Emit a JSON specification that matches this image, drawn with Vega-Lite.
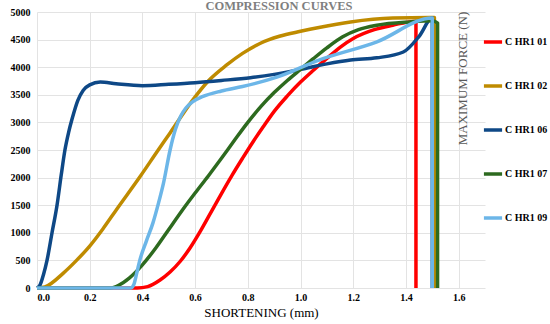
{
  "$schema": "https://vega.github.io/schema/vega-lite/v6.json",
  "width": 448,
  "height": 276,
  "autosize": {"type": "none"},
  "padding": {"left": 37, "top": 12, "right": 65, "bottom": 36},
  "background": "white",
  "title": {
    "text": "COMPRESSION CURVES",
    "font": "Liberation Serif",
    "fontSize": 12.5,
    "fontWeight": "bold",
    "color": "#7f7f7f",
    "anchor": "middle",
    "dx": 18,
    "offset": 2,
    "dy": 7
  },
  "data": {
    "values": [
      {"s": "C HR1 01", "i": 1, "x": 0, "y": 0},
      {"s": "C HR1 01", "i": 2, "x": 0.38, "y": 0},
      {"s": "C HR1 01", "i": 3, "x": 0.42, "y": 25},
      {"s": "C HR1 01", "i": 4, "x": 0.467, "y": 145},
      {"s": "C HR1 01", "i": 5, "x": 0.505, "y": 290},
      {"s": "C HR1 01", "i": 6, "x": 0.543, "y": 480},
      {"s": "C HR1 01", "i": 7, "x": 0.58, "y": 720},
      {"s": "C HR1 01", "i": 8, "x": 0.62, "y": 1030},
      {"s": "C HR1 01", "i": 9, "x": 0.66, "y": 1370},
      {"s": "C HR1 01", "i": 10, "x": 0.70, "y": 1710},
      {"s": "C HR1 01", "i": 11, "x": 0.74, "y": 2040},
      {"s": "C HR1 01", "i": 12, "x": 0.78, "y": 2350},
      {"s": "C HR1 01", "i": 13, "x": 0.82, "y": 2650},
      {"s": "C HR1 01", "i": 14, "x": 0.86, "y": 2930},
      {"s": "C HR1 01", "i": 15, "x": 0.90, "y": 3200},
      {"s": "C HR1 01", "i": 16, "x": 0.95, "y": 3480},
      {"s": "C HR1 01", "i": 17, "x": 1.0, "y": 3730},
      {"s": "C HR1 01", "i": 18, "x": 1.05, "y": 3950},
      {"s": "C HR1 01", "i": 19, "x": 1.1, "y": 4160},
      {"s": "C HR1 01", "i": 20, "x": 1.15, "y": 4360},
      {"s": "C HR1 01", "i": 21, "x": 1.2, "y": 4520},
      {"s": "C HR1 01", "i": 22, "x": 1.28, "y": 4680},
      {"s": "C HR1 01", "i": 23, "x": 1.35, "y": 4760},
      {"s": "C HR1 01", "i": 24, "x": 1.43, "y": 4830},
      {"s": "C HR1 01", "i": 25, "x": 1.438, "y": 4830},
      {"s": "C HR1 01", "i": 26, "x": 1.438, "y": 0},

      {"s": "C HR1 02", "i": 1, "x": 0, "y": 0},
      {"s": "C HR1 02", "i": 2, "x": 0.03, "y": 20},
      {"s": "C HR1 02", "i": 3, "x": 0.1, "y": 270},
      {"s": "C HR1 02", "i": 4, "x": 0.15, "y": 500},
      {"s": "C HR1 02", "i": 5, "x": 0.2, "y": 760},
      {"s": "C HR1 02", "i": 6, "x": 0.25, "y": 1070},
      {"s": "C HR1 02", "i": 7, "x": 0.3, "y": 1410},
      {"s": "C HR1 02", "i": 8, "x": 0.39, "y": 2010},
      {"s": "C HR1 02", "i": 9, "x": 0.46, "y": 2500},
      {"s": "C HR1 02", "i": 10, "x": 0.505, "y": 2810},
      {"s": "C HR1 02", "i": 11, "x": 0.59, "y": 3400},
      {"s": "C HR1 02", "i": 12, "x": 0.65, "y": 3750},
      {"s": "C HR1 02", "i": 13, "x": 0.72, "y": 4040},
      {"s": "C HR1 02", "i": 14, "x": 0.78, "y": 4250},
      {"s": "C HR1 02", "i": 15, "x": 0.846, "y": 4430},
      {"s": "C HR1 02", "i": 16, "x": 0.92, "y": 4560},
      {"s": "C HR1 02", "i": 17, "x": 1.0, "y": 4650},
      {"s": "C HR1 02", "i": 18, "x": 1.07, "y": 4720},
      {"s": "C HR1 02", "i": 19, "x": 1.19, "y": 4820},
      {"s": "C HR1 02", "i": 20, "x": 1.35, "y": 4890},
      {"s": "C HR1 02", "i": 21, "x": 1.49, "y": 4900},
      {"s": "C HR1 02", "i": 22, "x": 1.508, "y": 4900},
      {"s": "C HR1 02", "i": 23, "x": 1.508, "y": 0},

      {"s": "C HR1 06", "i": 1, "x": 0, "y": 0},
      {"s": "C HR1 06", "i": 2, "x": 0.012, "y": 60},
      {"s": "C HR1 06", "i": 3, "x": 0.025, "y": 250},
      {"s": "C HR1 06", "i": 4, "x": 0.038, "y": 500},
      {"s": "C HR1 06", "i": 5, "x": 0.057, "y": 1000},
      {"s": "C HR1 06", "i": 6, "x": 0.076, "y": 1500},
      {"s": "C HR1 06", "i": 7, "x": 0.092, "y": 2050},
      {"s": "C HR1 06", "i": 8, "x": 0.106, "y": 2500},
      {"s": "C HR1 06", "i": 9, "x": 0.12, "y": 2820},
      {"s": "C HR1 06", "i": 10, "x": 0.133, "y": 3060},
      {"s": "C HR1 06", "i": 11, "x": 0.155, "y": 3400},
      {"s": "C HR1 06", "i": 12, "x": 0.175, "y": 3580},
      {"s": "C HR1 06", "i": 13, "x": 0.2, "y": 3680},
      {"s": "C HR1 06", "i": 14, "x": 0.24, "y": 3730},
      {"s": "C HR1 06", "i": 15, "x": 0.3, "y": 3700},
      {"s": "C HR1 06", "i": 16, "x": 0.4, "y": 3665},
      {"s": "C HR1 06", "i": 17, "x": 0.5, "y": 3690},
      {"s": "C HR1 06", "i": 18, "x": 0.6, "y": 3720},
      {"s": "C HR1 06", "i": 19, "x": 0.7, "y": 3760},
      {"s": "C HR1 06", "i": 20, "x": 0.81, "y": 3810},
      {"s": "C HR1 06", "i": 21, "x": 0.9, "y": 3870},
      {"s": "C HR1 06", "i": 22, "x": 1.0, "y": 3960},
      {"s": "C HR1 06", "i": 23, "x": 1.1, "y": 4060},
      {"s": "C HR1 06", "i": 24, "x": 1.19, "y": 4130},
      {"s": "C HR1 06", "i": 25, "x": 1.29, "y": 4170},
      {"s": "C HR1 06", "i": 26, "x": 1.39, "y": 4275},
      {"s": "C HR1 06", "i": 27, "x": 1.45, "y": 4560},
      {"s": "C HR1 06", "i": 28, "x": 1.5, "y": 4890},
      {"s": "C HR1 06", "i": 29, "x": 1.5, "y": 0},

      {"s": "C HR1 07", "i": 1, "x": 0, "y": 0},
      {"s": "C HR1 07", "i": 2, "x": 0.277, "y": 0},
      {"s": "C HR1 07", "i": 3, "x": 0.31, "y": 50},
      {"s": "C HR1 07", "i": 4, "x": 0.35, "y": 180},
      {"s": "C HR1 07", "i": 5, "x": 0.4, "y": 420},
      {"s": "C HR1 07", "i": 6, "x": 0.45, "y": 720},
      {"s": "C HR1 07", "i": 7, "x": 0.5, "y": 1060},
      {"s": "C HR1 07", "i": 8, "x": 0.55, "y": 1400},
      {"s": "C HR1 07", "i": 9, "x": 0.6, "y": 1720},
      {"s": "C HR1 07", "i": 10, "x": 0.65, "y": 2030},
      {"s": "C HR1 07", "i": 11, "x": 0.7, "y": 2350},
      {"s": "C HR1 07", "i": 12, "x": 0.75, "y": 2680},
      {"s": "C HR1 07", "i": 13, "x": 0.8, "y": 3000},
      {"s": "C HR1 07", "i": 14, "x": 0.85, "y": 3290},
      {"s": "C HR1 07", "i": 15, "x": 0.9, "y": 3540},
      {"s": "C HR1 07", "i": 16, "x": 0.95, "y": 3760},
      {"s": "C HR1 07", "i": 17, "x": 1.0, "y": 3960},
      {"s": "C HR1 07", "i": 18, "x": 1.05, "y": 4160},
      {"s": "C HR1 07", "i": 19, "x": 1.1, "y": 4350},
      {"s": "C HR1 07", "i": 20, "x": 1.16, "y": 4550},
      {"s": "C HR1 07", "i": 21, "x": 1.22, "y": 4680},
      {"s": "C HR1 07", "i": 22, "x": 1.29, "y": 4760},
      {"s": "C HR1 07", "i": 23, "x": 1.415, "y": 4820},
      {"s": "C HR1 07", "i": 24, "x": 1.5, "y": 4840},
      {"s": "C HR1 07", "i": 25, "x": 1.52, "y": 4800},
      {"s": "C HR1 07", "i": 26, "x": 1.52, "y": 0},

      {"s": "C HR1 09", "i": 1, "x": 0, "y": 0},
      {"s": "C HR1 09", "i": 2, "x": 0.355, "y": 0},
      {"s": "C HR1 09", "i": 3, "x": 0.367, "y": 60},
      {"s": "C HR1 09", "i": 4, "x": 0.378, "y": 260},
      {"s": "C HR1 09", "i": 5, "x": 0.39, "y": 500},
      {"s": "C HR1 09", "i": 6, "x": 0.415, "y": 850},
      {"s": "C HR1 09", "i": 7, "x": 0.44, "y": 1180},
      {"s": "C HR1 09", "i": 8, "x": 0.46, "y": 1520},
      {"s": "C HR1 09", "i": 9, "x": 0.48, "y": 1900},
      {"s": "C HR1 09", "i": 10, "x": 0.505, "y": 2500},
      {"s": "C HR1 09", "i": 11, "x": 0.525, "y": 2870},
      {"s": "C HR1 09", "i": 12, "x": 0.545, "y": 3110},
      {"s": "C HR1 09", "i": 13, "x": 0.565, "y": 3260},
      {"s": "C HR1 09", "i": 14, "x": 0.59, "y": 3370},
      {"s": "C HR1 09", "i": 15, "x": 0.63, "y": 3470},
      {"s": "C HR1 09", "i": 16, "x": 0.7, "y": 3570},
      {"s": "C HR1 09", "i": 17, "x": 0.78, "y": 3650},
      {"s": "C HR1 09", "i": 18, "x": 0.91, "y": 3820},
      {"s": "C HR1 09", "i": 19, "x": 1.07, "y": 4130},
      {"s": "C HR1 09", "i": 20, "x": 1.29, "y": 4460},
      {"s": "C HR1 09", "i": 21, "x": 1.5, "y": 4890},
      {"s": "C HR1 09", "i": 22, "x": 1.5, "y": 0}
    ]
  },
  "encoding": {
    "x": {
      "field": "x",
      "type": "quantitative",
      "scale": {"domain": [0, 1.7], "nice": false, "zero": false},
      "axis": {
        "title": "SHORTENING (mm)",
        "titleFont": "Liberation Serif",
        "titleFontSize": 13,
        "titleFontWeight": "normal",
        "titleColor": "#000000",
        "titlePadding": 4,
        "values": [0, 0.2, 0.4, 0.6, 0.8, 1.0, 1.2, 1.4, 1.6],
        "format": ".1f",
        "labelFont": "Liberation Serif",
        "labelFontSize": 10,
        "labelFontWeight": "bold",
        "labelColor": "#000000",
        "labelPadding": 4,
        "ticks": false,
        "domain": false,
        "gridColor": "#e3e3e3"
      }
    },
    "color": {
      "field": "s",
      "type": "nominal",
      "scale": {
        "domain": ["C HR1 01", "C HR1 02", "C HR1 06", "C HR1 07", "C HR1 09"],
        "range": ["#ff0000", "#bf8b00", "#0e4886", "#2d6a1f", "#6cb6e8"]
      },
      "legend": {
        "title": null,
        "orient": "none",
        "legendX": 445,
        "legendY": 19,
        "symbolType": "stroke",
        "symbolStrokeWidth": 4,
        "symbolSize": 330,
        "rowPadding": 26,
        "labelFont": "Liberation Serif",
        "labelFontSize": 10,
        "labelFontWeight": "bold",
        "labelColor": "#000000",
        "labelOffset": 1
      }
    },
    "strokeWidth": {
      "field": "s",
      "type": "nominal",
      "scale": {
        "domain": ["C HR1 01", "C HR1 02", "C HR1 06", "C HR1 07", "C HR1 09"],
        "range": [3.5, 3.5, 4, 3.5, 5.5]
      },
      "legend": null
    },
    "order": {"field": "i", "type": "quantitative"}
  },
  "layer": [
    {
      "transform": [{"filter": "datum.s !== 'C HR1 09'"}],
      "mark": {"type": "line", "interpolate": "monotone", "strokeCap": "butt", "strokeJoin": "round"},
      "encoding": {
        "y": {
          "field": "y",
          "type": "quantitative",
          "scale": {"domain": [0, 5000], "nice": false},
          "axis": {
            "title": null,
            "values": [0, 500, 1000, 1500, 2000, 2500, 3000, 3500, 4000, 4500, 5000],
            "format": "d",
            "labelFont": "Liberation Serif",
            "labelFontSize": 10,
            "labelFontWeight": "bold",
            "labelColor": "#000000",
            "labelPadding": 7,
            "ticks": false,
            "domain": false,
            "gridColor": "#e3e3e3"
          }
        }
      }
    },
    {
      "transform": [{"filter": "datum.s === 'C HR1 09'"}],
      "mark": {"type": "line", "interpolate": "monotone", "strokeCap": "butt", "strokeJoin": "round"},
      "encoding": {
        "y": {
          "field": "y",
          "type": "quantitative",
          "scale": {"domain": [0, 5000], "nice": false},
          "axis": {
            "orient": "right",
            "title": "MAXIMUM FORCE (N)",
            "titleFont": "Liberation Serif",
            "titleFontSize": 13,
            "titleFontWeight": "normal",
            "titleColor": "#595959",
            "titleAngle": -90,
            "titleX": -16,
            "titleY": 66,
            "labels": false,
            "ticks": false,
            "domain": false,
            "grid": false
          }
        }
      }
    }
  ],
  "resolve": {"axis": {"y": "independent"}},
  "config": {"view": {"stroke": null}}
}
